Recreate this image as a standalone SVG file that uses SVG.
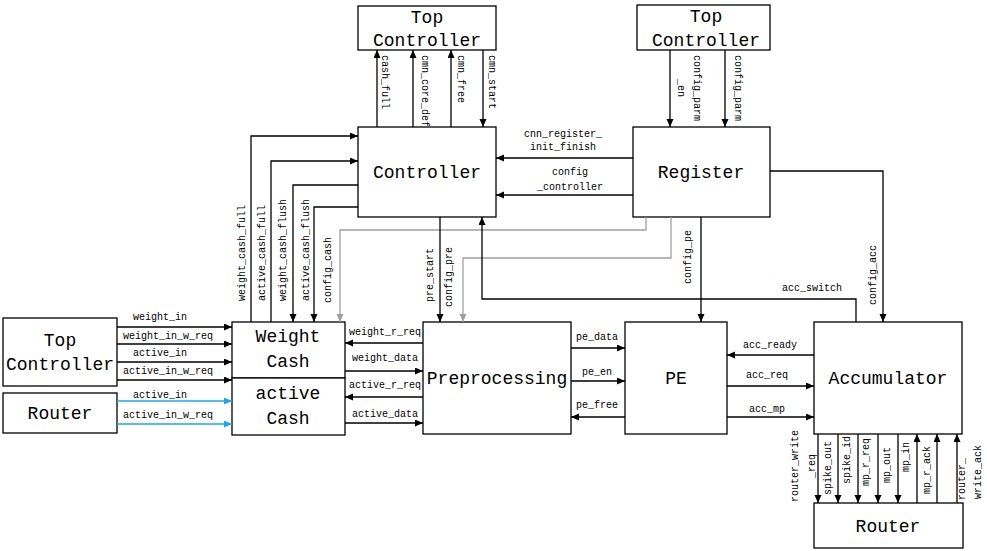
<svg xmlns="http://www.w3.org/2000/svg" width="987" height="551" viewBox="0 0 987 551">
<style>
.box{fill:#fff;stroke:#000;stroke-width:1.3}
.big{font-family:"Liberation Mono","DejaVu Sans Mono",monospace;font-size:18px;text-anchor:middle;fill:#000}
.lbl{font-family:"Liberation Mono","DejaVu Sans Mono",monospace;font-size:10px;text-anchor:middle;fill:#000}
.ln{fill:none;stroke:#000;stroke-width:1.3}
.lk{marker-end:url(#ak)}
.gr{fill:none;stroke:#a0a0a0;stroke-width:1.3;marker-end:url(#ag)}
.bl{fill:none;stroke:#1aa7ec;stroke-width:1.3;marker-end:url(#ab)}
</style>
<defs>
<marker id="ak" markerUnits="userSpaceOnUse" markerWidth="9" markerHeight="8" refX="8" refY="3.5" orient="auto"><path d="M0,0 L8,3.5 L0,7 z" fill="#000"/></marker>
<marker id="ag" markerUnits="userSpaceOnUse" markerWidth="9" markerHeight="8" refX="8" refY="3.5" orient="auto"><path d="M0,0 L8,3.5 L0,7 z" fill="#a0a0a0"/></marker>
<marker id="ab" markerUnits="userSpaceOnUse" markerWidth="9" markerHeight="8" refX="8" refY="3.5" orient="auto"><path d="M0,0 L8,3.5 L0,7 z" fill="#1aa7ec"/></marker>
</defs>
<rect width="987" height="551" fill="#fff"/>

<g id="top-controller-1"><rect class="box" x="358" y="6" width="138" height="44"/><text class="big" x="427" y="23">Top</text><text class="big" x="427" y="46">Controller</text></g>
<g id="top-controller-2"><rect class="box" x="637" y="5" width="133" height="45"/><text class="big" x="706" y="22">Top</text><text class="big" x="706" y="46">Controller</text></g>
<g id="controller"><rect class="box" x="358" y="127" width="138" height="90"/><text class="big" x="427" y="178">Controller</text></g>
<g id="register"><rect class="box" x="633" y="127" width="137" height="90"/><text class="big" x="701" y="178">Register</text></g>
<g id="top-controller-3"><rect class="box" x="3" y="318" width="114" height="68"/><text class="big" x="60" y="346">Top</text><text class="big" x="60" y="370">Controller</text></g>
<g id="router-1"><rect class="box" x="3" y="393" width="114" height="40"/><text class="big" x="60" y="419">Router</text></g>
<g id="weight-cash"><rect class="box" x="232" y="322" width="113" height="56"/><text class="big" x="288" y="342">Weight</text><text class="big" x="288" y="367">Cash</text></g>
<g id="active-cash"><rect class="box" x="232" y="378" width="113" height="57"/><text class="big" x="288" y="399">active</text><text class="big" x="288" y="424">Cash</text></g>
<g id="preprocessing"><rect class="box" x="423" y="322" width="148" height="112"/><text class="big" x="497" y="384">Preprocessing</text></g>
<g id="pe"><rect class="box" x="625" y="322" width="102" height="112"/><text class="big" x="676" y="384">PE</text></g>
<g id="accumulator"><rect class="box" x="814" y="322" width="148" height="112"/><text class="big" x="888" y="384">Accumulator</text></g>
<g id="router-2"><rect class="box" x="814" y="503" width="149" height="45"/><text class="big" x="888" y="532">Router</text></g>

<g id="connectors">
<path class="ln lk" d="M377,127 V50"/>
<path class="ln lk" d="M413,127 V50"/>
<path class="ln lk" d="M451,127 V50"/>
<path class="ln lk" d="M483,50 V127"/>
<path class="ln lk" d="M670,50 V127"/>
<path class="ln lk" d="M725,50 V127"/>
<path class="ln lk" d="M633,158 H496"/>
<path class="ln lk" d="M633,195 H496"/>
<path class="ln lk" d="M770,171 H883 V322"/>
<path class="ln lk" d="M701,217 V322"/>
<path class="gr" d="M646,217 V230 H340 V322"/>
<path class="gr" d="M671,217 V258 H463 V322"/>
<path class="ln lk" d="M856,322 V299 H482 V217"/>
<path class="ln lk" d="M440,217 V322"/>
<path class="ln lk" d="M251,322 V136 H358"/>
<path class="ln lk" d="M271,322 V161 H358"/>
<path class="ln lk" d="M358,185 H293 V322"/>
<path class="ln lk" d="M358,207 H314 V322"/>
<path class="ln lk" d="M423,343 H345"/>
<path class="ln lk" d="M345,371 H423"/>
<path class="ln lk" d="M423,397 H345"/>
<path class="ln lk" d="M345,423 H423"/>
<path class="ln lk" d="M571,348 H625"/>
<path class="ln lk" d="M571,381 H625"/>
<path class="ln lk" d="M625,417 H571"/>
<path class="ln lk" d="M814,355 H727"/>
<path class="ln lk" d="M727,386 H814"/>
<path class="ln lk" d="M727,417 H814"/>
<path class="ln lk" d="M818,434 V503"/>
<path class="ln lk" d="M838,434 V503"/>
<path class="ln lk" d="M858,434 V503"/>
<path class="ln lk" d="M878,434 V503"/>
<path class="ln lk" d="M898,434 V503"/>
<path class="ln lk" d="M917,503 V434"/>
<path class="ln lk" d="M937,503 V434"/>
<path class="ln lk" d="M957,503 V434"/>
<path class="ln lk" d="M117,327 H232"/>
<path class="ln lk" d="M117,344 H232"/>
<path class="ln lk" d="M117,362 H232"/>
<path class="ln lk" d="M117,380 H232"/>
<path class="bl" d="M117,401 H232"/>
<path class="bl" d="M117,424 H232"/>

<text class="lbl" transform="translate(382,82) rotate(90)">cash_full</text>
<text class="lbl" transform="translate(422,91) rotate(90)">cmn_core_def</text>
<text class="lbl" transform="translate(458,79) rotate(90)">cmn_free</text>
<text class="lbl" transform="translate(489,82) rotate(90)">cmn_start</text>
<text class="lbl" transform="translate(694,88) rotate(90)">config_parm<tspan x="0" dy="16">_en</tspan></text>
<text class="lbl" transform="translate(735,88) rotate(90)">config_parm</text>
<text class="lbl" x="563" y="137">cnn_register_</text>
<text class="lbl" x="563" y="150">init_finish</text>
<text class="lbl" x="570" y="175">config</text>
<text class="lbl" x="570" y="190">_controller</text>
<text class="lbl" transform="translate(691,257) rotate(-90)">config_pe</text>
<text class="lbl" transform="translate(876,275) rotate(-90)">config_acc</text>
<text class="lbl" x="812" y="291">acc_switch</text>
<text class="lbl" transform="translate(433,275) rotate(-90)">pre_start</text>
<text class="lbl" transform="translate(452,277) rotate(-90)">config_pre</text>
<text class="lbl" transform="translate(245,253) rotate(-90)">weight_cash_full</text>
<text class="lbl" transform="translate(265,253) rotate(-90)">active_cash_full</text>
<text class="lbl" transform="translate(286,250) rotate(-90)">weight_cash_flush</text>
<text class="lbl" transform="translate(309,250) rotate(-90)">active_cash_flush</text>
<text class="lbl" transform="translate(331,270) rotate(-90)">config_cash</text>
<text class="lbl" x="160" y="320">weight_in</text>
<text class="lbl" x="168" y="339">weight_in_w_req</text>
<text class="lbl" x="160" y="356">active_in</text>
<text class="lbl" x="168" y="374">active_in_w_req</text>
<text class="lbl" x="160" y="398">active_in</text>
<text class="lbl" x="168" y="418">active_in_w_req</text>
<text class="lbl" x="385" y="335">weight_r_req</text>
<text class="lbl" x="385" y="361">weight_data</text>
<text class="lbl" x="385" y="388">active_r_req</text>
<text class="lbl" x="385" y="417">active_data</text>
<text class="lbl" x="597" y="340">pe_data</text>
<text class="lbl" x="597" y="375">pe_en</text>
<text class="lbl" x="597" y="408">pe_free</text>
<text class="lbl" x="770" y="348">acc_ready</text>
<text class="lbl" x="767" y="378">acc_req</text>
<text class="lbl" x="767" y="412">acc_mp</text>
<text class="lbl" transform="translate(798,466) rotate(-90)">router_write<tspan x="0" dy="17">_req</tspan></text>
<text class="lbl" transform="translate(831,468) rotate(-90)">spike_out</text>
<text class="lbl" transform="translate(850,460) rotate(-90)">spike_id</text>
<text class="lbl" transform="translate(869,462) rotate(-90)">mp_r_req</text>
<text class="lbl" transform="translate(890,465) rotate(-90)">mp_out</text>
<text class="lbl" transform="translate(909,457) rotate(-90)">mp_in</text>
<text class="lbl" transform="translate(930,470) rotate(-90)">mp_r_ack</text>
<text class="lbl" transform="translate(965,479) rotate(-90)">router_</text>
<text class="lbl" transform="translate(981,472) rotate(-90)">write_ack</text>
</g>
</svg>
